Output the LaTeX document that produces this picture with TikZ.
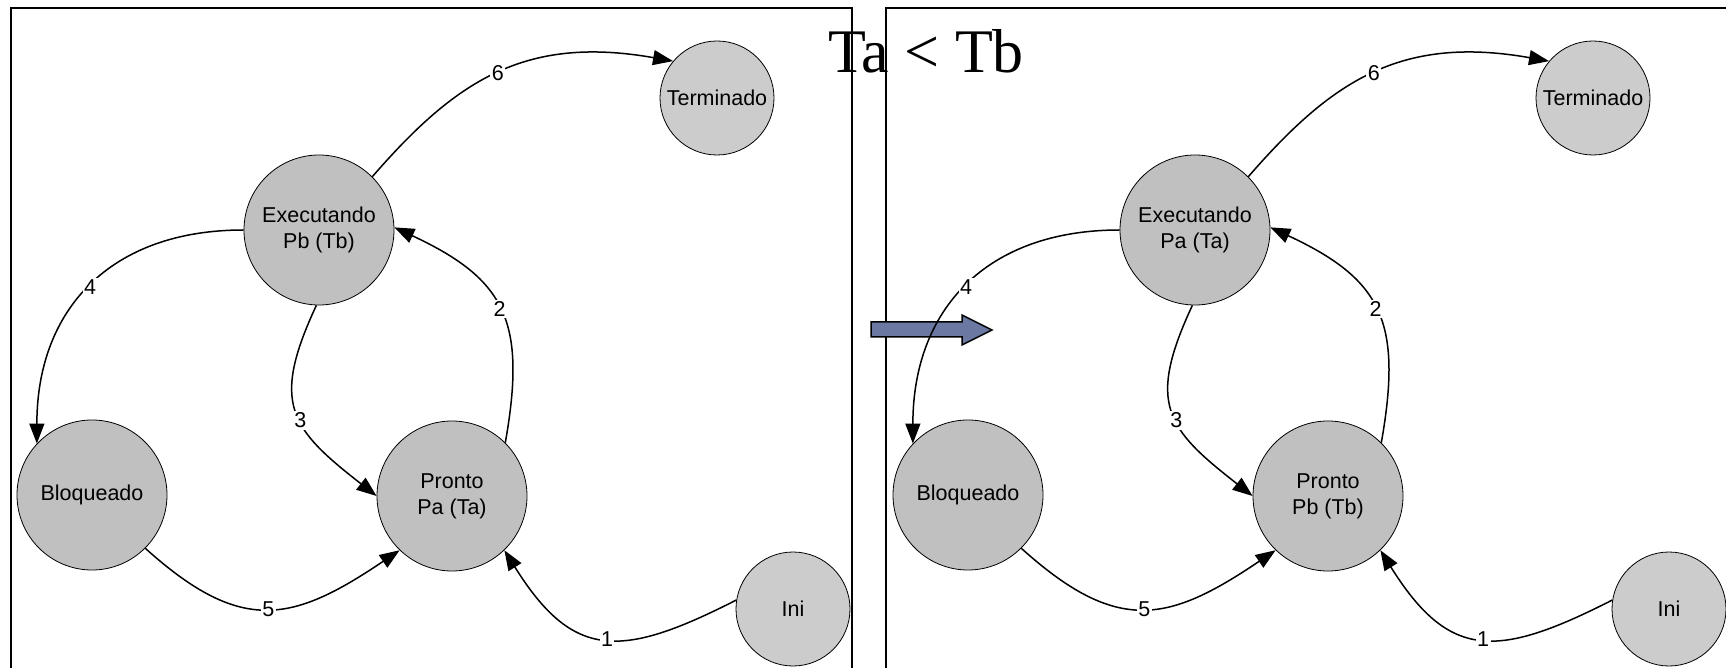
\documentclass[tikz,border=0pt]{standalone}
\usepackage{fontspec}
\setmainfont{Liberation Sans}
\newfontfamily\titlefont{Liberation Serif}
\usetikzlibrary{arrows.meta}
\definecolor{estado}{HTML}{C0C0C0}
\definecolor{estadoclaro}{HTML}{CCCCCC}
\definecolor{seta}{HTML}{6A78A2}
\begin{document}
\begin{tikzpicture}[x=1pt,y=1pt]
			\tikzset{grande/.style={circle, draw=black, fill=estado, line width=0.8pt, minimum size=150pt, inner sep=0pt, align=center, font=\fontsize{21.5}{26}\selectfont},
			pequeno/.style={grande, fill=estadoclaro, minimum size=114pt},
			trans/.style={line width=1.5pt, -{Triangle[length=20pt,width=15pt]}},
			rot/.style={fill=white, inner sep=1.5pt, font=\fontsize{21.5}{26}\selectfont}}
\clip (0,0) rectangle (1726,667);
\draw[line width=2pt] (11,-20) rectangle (852,659);
\draw[line width=2pt] (886,-20) rectangle (1760,659);

\node[grande] at (319, 437) (ex) {Executando\\Pb (Tb)};
\node[pequeno] at (717, 569) (te) {Terminado};
\node[grande] at (92, 172) (bl) {Bloqueado};
\node[grande] at (452, 171) (pr) {Pronto\\Pa (Ta)};
\node[pequeno] at (793, 58) (ini) {Ini};
			\draw [trans] (ini.171) to[out=207, in=302, looseness=1.4] node[rot, pos=0.48] {1} (pr.-46);
			\draw [trans] (pr.45) to[out=80, in=335, looseness=1.3] node[rot, pos=0.5] {2} (ex.2);
			\draw [trans] (ex.-92) to[out=245, in=142, looseness=1.4] node[rot, pos=0.55] {3} (pr.180);
			\draw [trans] (ex.180) to[out=180, in=90, looseness=1.15] node[rot, pos=0.5] {4} (bl.137);
			\draw [trans] (bl.-45) to[out=-42, in=214, looseness=1.3] node[rot, pos=0.5] {5} (pr.-134);
			\draw [trans] (ex.45) to[out=49, in=170, out looseness=1.0, in looseness=1.2] node[rot, pos=0.5] {6} (te.140);

			\draw [line width=1.5pt, fill=seta] (871,345) -- (962,345) -- (962,352) -- (992,337) -- (962,322) -- (962,330) -- (871,330) -- cycle;

\node[grande] at (1195, 437) (ex2) {Executando\\Pa (Ta)};
\node[pequeno] at (1593, 569) (te2) {Terminado};
\node[grande] at (968, 172) (bl2) {Bloqueado};
\node[grande] at (1328, 171) (pr2) {Pronto\\Pb (Tb)};
\node[pequeno] at (1669, 58) (ini2) {Ini};
			\draw [trans] (ini2.171) to[out=207, in=302, looseness=1.4] node[rot, pos=0.48] {1} (pr2.-46);
			\draw [trans] (pr2.45) to[out=80, in=335, looseness=1.3] node[rot, pos=0.5] {2} (ex2.2);
			\draw [trans] (ex2.-92) to[out=245, in=142, looseness=1.4] node[rot, pos=0.55] {3} (pr2.180);
			\draw [trans] (ex2.180) to[out=180, in=90, looseness=1.15] node[rot, pos=0.5] {4} (bl2.137);
			\draw [trans] (bl2.-45) to[out=-42, in=214, looseness=1.3] node[rot, pos=0.5] {5} (pr2.-134);
			\draw [trans] (ex2.45) to[out=49, in=170, out looseness=1.0, in looseness=1.2] node[rot, pos=0.5] {6} (te2.140);

\node[font=\titlefont\fontsize{62}{70}\selectfont, anchor=base, inner sep=0pt] at (926, 594) (titulo) {Ta < Tb};
		\end{tikzpicture}
\end{document}
